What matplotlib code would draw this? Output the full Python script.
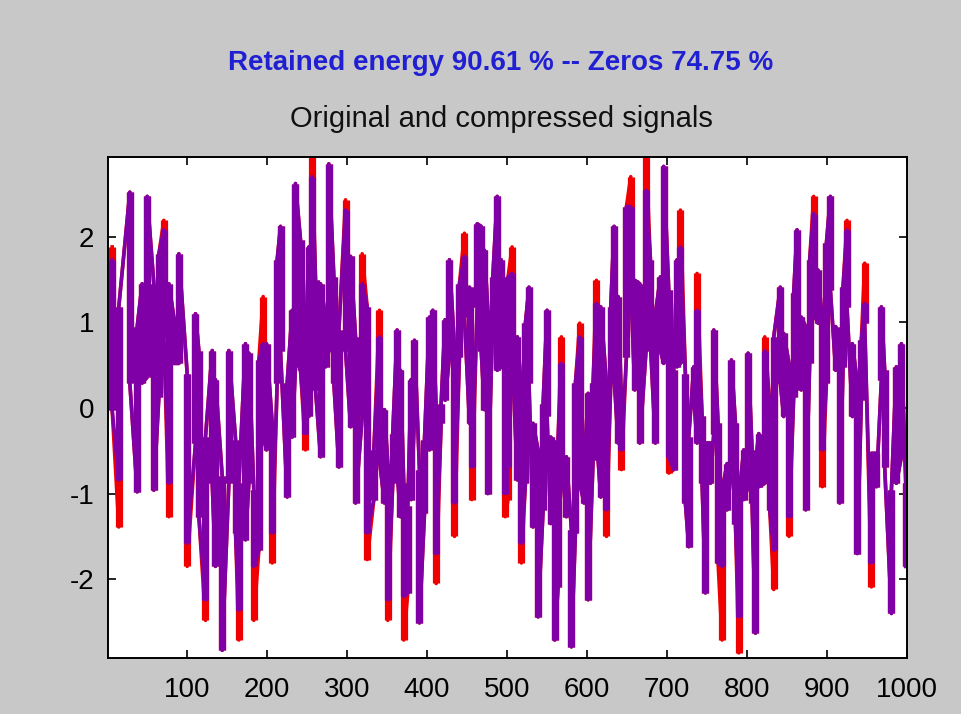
import matplotlib
matplotlib.use("Agg")
import matplotlib.pyplot as plt
from matplotlib import font_manager

# ---- data: each "bar" of the dense signal trace ----
bar_x = [6.2, 14.5, 28.3, 37.5, 43.7, 50.0, 58.3, 64.6, 70.8, 77.1, 83.3, 89.6,
         100.0, 110.4, 114.6, 122.9, 131.3, 135.4, 143.8, 152.1, 160.5, 164.6,
         172.9, 177.1, 183.3, 189.6, 195.0, 199.2, 206.3, 212.5, 216.7, 225.0,
         231.3, 235.4, 241.7, 247.9, 252.1, 256.3, 260.5, 266.7, 273.0, 277.1,
         283.4, 289.7, 298.0, 304.3, 310.5, 318.8, 325.1, 333.4,
         340.4, 346.6, 350.8, 357.0, 362.5, 366.6, 370.8, 375.8, 380.0, 384.2,
         390.4, 396.7, 402.9, 407.1, 411.3, 417.5, 422.5, 427.9, 434.2, 440.4,
         446.7, 453.0, 455.9, 462.6, 467.6, 471.7, 475.9, 482.1, 487.6, 492.6, 497.6,
         501.2, 506.2, 512.8, 517.9, 522.9, 527.4, 532.4, 538.7, 545.0, 550.0,
         554.5, 559.6, 563.7, 567.9, 574.1, 580.4, 585.4, 590.8, 596.2, 601.3,
         607.5, 611.7, 617.1, 624.2, 629.6, 633.8, 638.8, 643.0, 649.2, 654.6,
         659.6, 665.9,
         673.7, 679.2, 685.4, 691.7, 695.8, 702.1, 708.3, 712.5, 716.7, 722.9,
         727.1, 733.4, 737.5, 743.8, 748.0, 754.2, 758.4, 763.8, 768.8, 775.1,
         780.5, 785.5, 789.7, 795.9, 801.3, 806.3, 810.5, 814.7, 822.2, 828.4, 833.4,
         841.6, 845.8, 852.5, 858.3, 862.5, 867.9, 873.3, 878.3, 883.3, 888.7,
         894.2, 899.2, 904.2, 910.8, 915.8, 920.0, 925.0, 931.7, 937.9, 942.9,
         947.1, 955.5, 961.7, 968.0, 972.1, 980.5, 986.7, 993.0, 998.4]

orig_top = [1.88, 1.18, 2.52, 0.95, 1.45, 2.47, 1.45, 1.80, 2.19, 1.45, 1.06, 1.80,
            0.40, 1.10, 0.67, -0.34, 0.67, 0.33, -0.80, 0.67, -0.37, -0.88,
            0.75, 0.64, -0.96, 0.56, 1.30, 0.75, -0.18, 1.73, 2.12, 0.29,
            1.14, 2.62, 1.96, 0.67, 1.88, 2.93, 1.49, 1.45, 1.06, 2.85,
            1.53, 0.91, 2.43, 1.77, 0.83, 1.80, 1.18, -0.49,
            1.14, -0.02, -0.65, -0.30, 0.91, 0.44, -0.88, -1.15, 0.33, 0.79,
            -0.72, -0.37, 1.06, 1.14, -0.02, 0.05, 1.03, 1.73, 0.71, 1.45,
            2.04, 1.41, 0.67, 2.15, 2.12, 1.84, 1.14, 1.53, 2.47, 1.73, 0.60,
            1.53, 1.88, 0.83, 0.21, 0.99, 1.41, -0.18, -0.49, 0.05, 1.14,
            -0.34, -0.41, -0.37, 0.83, -0.57, -1.42, 0.29, 0.99, -0.72, 0.17,
            0.29, 1.49, 1.18, 0.29, 1.18, 2.12, 1.30, 0.05, 2.35, 2.70,
            1.49, 1.45,
            2.93, 1.73, 1.10, 1.53, 2.82, 1.38, 0.44, 1.73, 2.31, 0.40,
            -0.34, 0.48, 1.57, -0.10, -0.41, -0.41, 0.91, -0.18, -0.96, -0.65,
            0.56, -0.18, -1.04, -0.49, 0.64, -0.49, -0.65, -0.30, 0.83, 0.05, 0.83,
            1.41, 0.87, 0.52, 1.34, 2.08, 1.06, 0.95, 1.73, 2.47, 1.61,
            0.99, 1.92, 2.47, 0.95, 0.83, 1.41, 2.19, 0.75, 0.29, 0.79,
            1.69, -0.53, -0.53, 1.18, 0.44, -0.96, 0.48, 0.75, -0.88]

orig_bot = [-0.02, -1.39, 0.29, -0.98, 0.29, 0.36, -0.96, 0.13, 0.83, -1.27, 0.52, 0.52,
            -1.85, -0.41, -1.27, -2.48, -0.88, -1.85, -2.83, -0.88, -1.46, -2.71,
            -1.54, -0.88, -2.48, -1.66, -0.34, -0.49, -1.81, 0.29, 0.67, -1.04,
            -0.34, 0.48, 0.44, -0.49, -0.10, 0.48, 0.21, -0.57, 0.48, 0.67,
            0.29, -0.69, 0.67, -0.22, -1.11, -0.10, -1.77, -1.07,
            -0.61, -1.11, -2.48, -0.88, -0.72, -1.27, -2.71, -2.16, -1.07, -0.10,
            -2.51, -1.23, -0.49, -0.02, -2.05, -0.18, 0.09, 0.60, -1.50, 0.60,
            1.06, -0.18, -1.07, 1.18, 0.67, -0.02, -1.00, 1.06, 0.44, 0.48, -1.27,
            -1.07, 0.67, -0.84, -1.81, -0.88, 0.29, -1.39, -2.44, -1.19, -0.10,
            -1.35, -2.71, -2.09, -0.61, -1.27, -2.79, -1.46, -0.88, -1.11, -2.24,
            -0.61, -0.34, -1.04, -1.50, 0.29, 0.36, -0.41, -0.72, 0.60, 1.45,
            0.21, -0.41,
            0.67, 0.75, -0.41, 0.67, 0.52, -0.76, -0.72, 0.48, 0.52, -1.11,
            -1.62, 0.13, -0.41, -0.88, -2.16, -0.88, -0.30, -1.81, -2.71, -1.19,
            -0.72, -1.35, -2.86, -1.07, -0.92, -1.11, -2.63, -0.92, -0.88, -1.19, -2.12,
            0.29, -0.10, -1.50, 0.13, 0.67, 0.21, -1.19, 0.52, 1.10, 0.99,
            -0.92, 0.29, 1.38, 0.44, -1.11, 0.48, 1.18, -0.10, -1.70, 0.09,
            0.99, -2.09, -0.92, 0.33, -0.69, -2.40, -0.88, -0.57, -1.85]

# compressed signal: same as original except where the red original shows beyond it
comp_top_diff = {6.2: 1.73, 70.8: 2.08, 195.0: 0.75, 256.3: 2.70, 298.0: 2.31,
                 318.8: 1.45, 340.4: 0.83, 446.7: 1.77, 506.2: 1.57, 567.9: 0.52,
                 590.8: 0.83, 611.7: 1.22, 654.6: 2.35, 673.7: 2.54, 716.7: 1.88,
                 737.5: 1.14, 822.2: 0.67, 883.3: 2.27, 925.0: 2.08, 947.1: 1.22}
comp_bot_diff = {14.5: -0.84, 77.1: -0.88, 100.0: -1.58, 122.9: -2.24, 164.6: -2.36,
                 183.3: -1.85, 206.3: -1.46, 247.9: -0.30, 325.1: -1.46, 350.8: -2.24,
                 370.8: -2.20, 411.3: -1.70, 434.2: -1.11, 455.9: -0.69, 497.6: -1.00,
                 501.2: -0.69, 517.9: -1.58, 624.2: -1.19, 643.0: -0.49, 702.1: -0.57,
                 768.8: -1.85, 789.7: -2.44, 833.4: -1.66, 852.5: -1.27, 894.2: -0.49,
                 955.5: -1.81}

title_top = "Retained energy 90.61 % -- Zeros 74.75 %"
title_sub = "Original and compressed signals"
x_ticks = [100, 200, 300, 400, 500, 600, 700, 800, 900, 1000]
y_ticks = [-2, -1, 0, 1, 2]


def trace(xs, tops, bots):
    px, py = [], []
    for i, (x, t, b) in enumerate(zip(xs, tops, bots)):
        if i % 2 == 0:
            px += [x, x]; py += [t, b]
        else:
            px += [x, x]; py += [b, t]
    return px, py


comp_top = [comp_top_diff.get(x, t) for x, t in zip(bar_x, orig_top)]
comp_bot = [comp_bot_diff.get(x, b) for x, b in zip(bar_x, orig_bot)]

# fonts
avail = {f.name for f in font_manager.fontManager.ttflist}
fam = [f for f in ["Liberation Sans Narrow", "Liberation Sans", "DejaVu Sans"] if f in avail]
plt.rcParams['font.family'] = fam

W, H = 961, 714
fig = plt.figure(figsize=(W / 100, H / 100), dpi=100)
bg = '#c8c8c8'
fig.patch.set_facecolor(bg)

L, R, T, B = 108, 907, 157, 658
ax = fig.add_axes([L / W, 1 - B / H, (R - L) / W, (B - T) / H])
ax.set_facecolor('white')

red = '#f00000'
purple = '#8000a8'
bar_w = 5.2  # points
link_w = 2.6
ox, oy = trace(bar_x, orig_top, orig_bot)
cx, cy = trace(bar_x, comp_top, comp_bot)
ax.plot(ox, oy, color=red, lw=link_w, solid_joinstyle='round')
ax.vlines(bar_x, orig_bot, orig_top, color=red, lw=bar_w)
ax.plot(cx, cy, color=purple, lw=link_w, solid_joinstyle='round')
ax.vlines(bar_x, comp_bot, comp_top, color=purple, lw=bar_w)

ax.set_xlim(1, 1000)
ax.set_ylim(-2.92, 2.93)
ax.set_xticks(x_ticks)
ax.set_yticks(y_ticks)
ax.set_xticklabels([str(v) for v in x_ticks])
ax.set_yticklabels([str(v) for v in y_ticks])
ax.tick_params(direction='in', length=6, width=1.2, top=True, right=True,
               labelsize=20, colors='black', pad=10)
ax.tick_params(axis='x', pad=14)
for s in ax.spines.values():
    s.set_linewidth(1.4)
    s.set_color('black')

fig.text(501 / W, 1 - 70 / H, title_top, color='#2020d2', fontsize=20,
         fontweight='bold', ha='center', va='baseline')
fig.text(501 / W, 1 - 127 / H, title_sub, color='#111111', fontsize=21,
         ha='center', va='baseline')

fig.savefig('out.png', dpi=100, facecolor=bg)
